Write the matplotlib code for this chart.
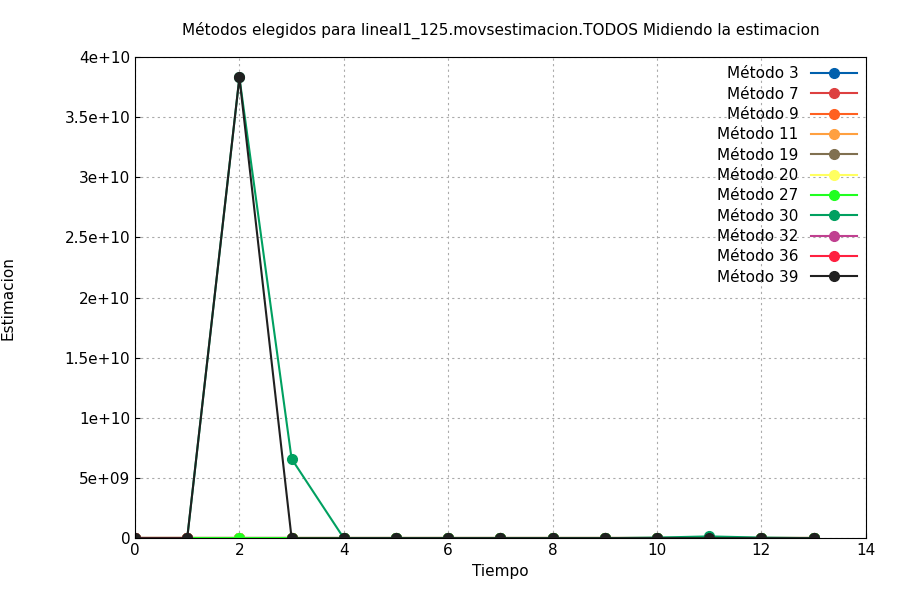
import matplotlib
matplotlib.use("Agg")
import matplotlib.pyplot as plt

t = list(range(14))
labels = ["Método 3","Método 7","Método 9","Método 11","Método 19","Método 20","Método 27","Método 30","Método 32","Método 36","Método 39"]
colors = ["#0060ad","#dd4040","#ff6020","#ffa040","#807050","#ffff60","#20ff20","#00a060","#c04090","#ff2040","#202020"]
zeros = [0]*14
m30 = [0,0,3.83e10,6.6e9,0,0,0,0,0,0,5e7,1.5e8,5e7,0]
m39 = [0,0,3.83e10,0,0,0,0,0,0,0,0,0,0,0]
series = [zeros]*7 + [m30] + [zeros]*2 + [m39]
npts = {5: 3, 8: 2, 9: 2}

fig, ax = plt.subplots(figsize=(9,6), dpi=100)
fig.subplots_adjust(left=0.15, right=0.962, top=0.905, bottom=0.103)
for i,(lab,c,y) in enumerate(zip(labels,colors,series)):
    n = npts.get(i, 14)
    ax.plot(t[:n], y[:n], color=c, marker='o', markersize=7, lw=1.5, label=lab)
ax.set_xlim(0,14)
ax.set_ylim(0,4e10)
ax.set_xticks(range(0,15,2))
ax.set_yticks([i*5e9 for i in range(9)])
ax.set_yticklabels(["0","5e+09","1e+10","1.5e+10","2e+10","2.5e+10","3e+10","3.5e+10","4e+10"])
ax.grid(True, color="#aaaaaa", linestyle=(0,(2,3)), lw=0.8)
ax.tick_params(direction='in', labelsize=11)
ax.set_xlabel("Tiempo", fontsize=11)
ax.set_ylabel("Estimacion", fontsize=11, labelpad=35)
ax.set_title("Métodos elegidos para lineal1_125.movsestimacion.TODOS Midiendo la estimacion", fontsize=11, pad=16)
leg = ax.legend(loc='upper right', frameon=False, fontsize=11, markerfirst=False, handlelength=3, labelspacing=0.35, borderaxespad=0.2)
fig.savefig("out.png")
